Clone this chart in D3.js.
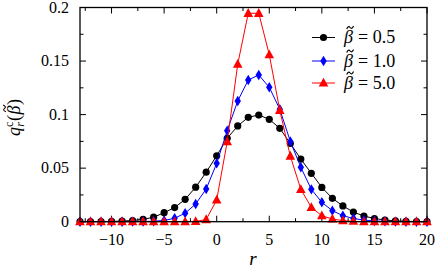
<!DOCTYPE html>
<html>
<head>
<meta charset="utf-8">
<script src="https://cdn.jsdelivr.net/npm/d3@7"></script>
<style>
  body { margin: 0; background: #fff; }
</style>
</head>
<body>
<svg id="chart" width="437" height="270"></svg>
<script>
// r values (integer sites)
var rValues = [-13, -12, -11, -10, -9, -8, -7, -6, -5, -4, -3, -2, -1, 0, 1, 2, 3, 4,
               5, 6, 7, 8, 9, 10, 11, 12, 13, 14, 15, 16, 17, 18, 19, 20];

// beta = 0.5
var q05 = [0.0000, 0.0001, 0.0002, 0.0003, 0.0006, 0.0011, 0.0022, 0.0042, 0.0084, 0.0132,
           0.0209, 0.0322, 0.0462, 0.0616, 0.0779, 0.0894, 0.0975, 0.0996, 0.0956, 0.0872,
           0.0730, 0.0585, 0.0452, 0.0320, 0.0218, 0.0147, 0.0090, 0.0053, 0.0030, 0.0016,
           0.0008, 0.0004, 0.0002, 0.0001];
// beta = 1.0
var q10 = [0.0000, 0.0000, 0.0000, 0.0000, 0.0000, 0.0001, 0.0002, 0.0004, 0.0012, 0.0032,
           0.0080, 0.0165, 0.0305, 0.0545, 0.0850, 0.1127, 0.1323, 0.1370, 0.1255, 0.1050,
           0.0750, 0.0508, 0.0302, 0.0181, 0.0103, 0.0056, 0.0030, 0.0015, 0.0007, 0.0003,
           0.0001, 0.0000, 0.0000, 0.0000];
// beta = 5.0
var q50 = [0.0000, 0.0000, 0.0000, 0.0000, 0.0000, 0.0000, 0.0000, 0.0000, 0.0000, 0.0000,
           0.0000, 0.0003, 0.0020, 0.0203, 0.0747, 0.1470, 0.1946, 0.1946, 0.1560, 0.1040,
           0.0613, 0.0302, 0.0134, 0.0056, 0.0025, 0.0010, 0.0004, 0.0000, 0.0000, 0.0000,
           0.0000, 0.0000, 0.0000, 0.0000];

var seriesLabels = ["0.5", "1.0", "5.0"];
var seriesColors = ["#000000", "#0000ff", "#ff0000"];
var seriesShapes = ["circle", "diamond", "triangle"];
var seriesValues = [q05, q10, q50];

var xTicks = [-10, -5, 0, 5, 10, 15, 20];
var yTicks = [0, 0.05, 0.1, 0.15, 0.2];

var FONT = "Liberation Serif";
var svg = d3.select("#chart");
var L = 80, R = 427, T = 7.5, B = 221.7;

var x = d3.scaleLinear().domain([-13, 20]).range([L, R]);
var y = d3.scaleLinear().domain([0, 0.2]).range([B, T]);

var fmtY = function (d) { return d === 0 ? "0" : String(+d.toFixed(3)); };
var fmtX = function (d) { return d < 0 ? "\u2212" + (-d) : String(d); };

// ticks: inward on all four sides
var xMinor = d3.range(-12.5, 20, 2.5);
var yMinor = d3.range(0.025, 0.2, 0.05);

var g = svg.append("g");

function txt(sel, px, py, size) {
    return sel.append("text").attr("x", px).attr("y", py)
        .attr("font-family", FONT).attr("font-size", size).attr("fill", "#000");
}

function tickLines(vals, len) {
    vals.forEach(function (v) {
        g.append("line").attr("x1", x(v)).attr("x2", x(v)).attr("y1", B).attr("y2", B - len).attr("stroke", "#000");
        g.append("line").attr("x1", x(v)).attr("x2", x(v)).attr("y1", T).attr("y2", T + len).attr("stroke", "#000");
    });
}
function tickLinesY(vals, len) {
    vals.forEach(function (v) {
        g.append("line").attr("x1", L).attr("x2", L + len).attr("y1", y(v)).attr("y2", y(v)).attr("stroke", "#000");
        g.append("line").attr("x1", R).attr("x2", R - len).attr("y1", y(v)).attr("y2", y(v)).attr("stroke", "#000");
    });
}
tickLines(xTicks, 6);
tickLines(xMinor.filter(function (v) { return v % 5 !== 0; }), 3.5);
tickLinesY(yTicks, 6);
tickLinesY(yMinor, 3.5);

xTicks.forEach(function (d) {
    txt(g, x(d), 245, 16).attr("text-anchor", "middle").text(fmtX(d));
});
yTicks.forEach(function (d) {
    txt(g, 69, y(d) + 5, 16).attr("text-anchor", "end").text(fmtY(d));
});

// series
var line = d3.line()
    .x(function (d, i) { return x(rValues[i]); })
    .y(function (d) { return y(d); });

function marker(sel, shape, color) {
    if (shape === "circle") {
        sel.append("circle").attr("r", 3.6).attr("fill", color);
    } else if (shape === "diamond") {
        sel.append("path").attr("d", "M0,-5.2L3.2,0L0,5.2L-3.2,0Z").attr("fill", color);
    } else {
        sel.append("path").attr("d", "M0,-5.2L4.8,3.6L-4.8,3.6Z").attr("fill", color);
    }
}

seriesValues.forEach(function (vals, s) {
    g.append("path")
        .datum(vals)
        .attr("d", line)
        .attr("fill", "none")
        .attr("stroke", seriesColors[s])
        .attr("stroke-width", 1);
    g.selectAll(".m" + s).data(vals).enter().append("g")
        .attr("transform", function (d, i) { return "translate(" + x(rValues[i]) + "," + y(d) + ")"; })
        .each(function () { marker(d3.select(this), seriesShapes[s], seriesColors[s]); });
});

// frame
g.append("rect").attr("x", L).attr("y", T).attr("width", R - L).attr("height", B - T)
    .attr("fill", "none").attr("stroke", "#000").attr("stroke-width", 1.3);

// beta with a tilde on top, drawn as a small path
function betaTilde(sel, bx, by, size) {
    txt(sel, bx, by, size).attr("font-style", "italic").text("\u03b2");
    var w = size * 0.38, h = size * 0.08, cx = bx + size * 0.34, cy = by - size * 0.86;
    sel.append("path")
        .attr("d", "M" + (cx - w / 2) + "," + (cy + h) + "Q" + (cx - w / 4) + "," + (cy - h * 1.6) + " " + cx + "," + cy +
            "T" + (cx + w / 2) + "," + (cy - h))
        .attr("fill", "none").attr("stroke", "#000").attr("stroke-width", size * 0.06);
}

// legend
var legY = [37.5, 61, 83];
seriesLabels.forEach(function (lab, s) {
    var lg = g.append("g").attr("transform", "translate(0," + legY[s] + ")");
    lg.append("line").attr("x1", 312).attr("x2", 335).attr("y1", 0).attr("y2", 0)
        .attr("stroke", seriesColors[s]).attr("stroke-width", 1);
    var mg = lg.append("g").attr("transform", "translate(323.5,0)");
    marker(mg, seriesShapes[s], seriesColors[s]);
    betaTilde(lg, 344, 5.5, 18);
    txt(lg, 358, 5.5, 18).text("= " + lab);
});

// axis labels
txt(g, 253, 265, 19).attr("text-anchor", "middle").attr("font-style", "italic").text("r");

var yl = g.append("g").attr("transform", "translate(20,136) rotate(-90)");
var yt = txt(yl, 0, 0, 18);
yt.append("tspan").attr("font-style", "italic").text("q");
yt.append("tspan").attr("dy", -7).attr("font-size", 12).text("c");
yt.append("tspan").attr("dx", -5).attr("dy", 11).attr("font-size", 12).attr("font-style", "italic").text("r");
yt.append("tspan").attr("dx", 1).attr("dy", -4).text("(");
txt(yl, 31, 0, 18).text(")");
betaTilde(yl, 21.5, 0, 18);
</script>
</body>
</html>
